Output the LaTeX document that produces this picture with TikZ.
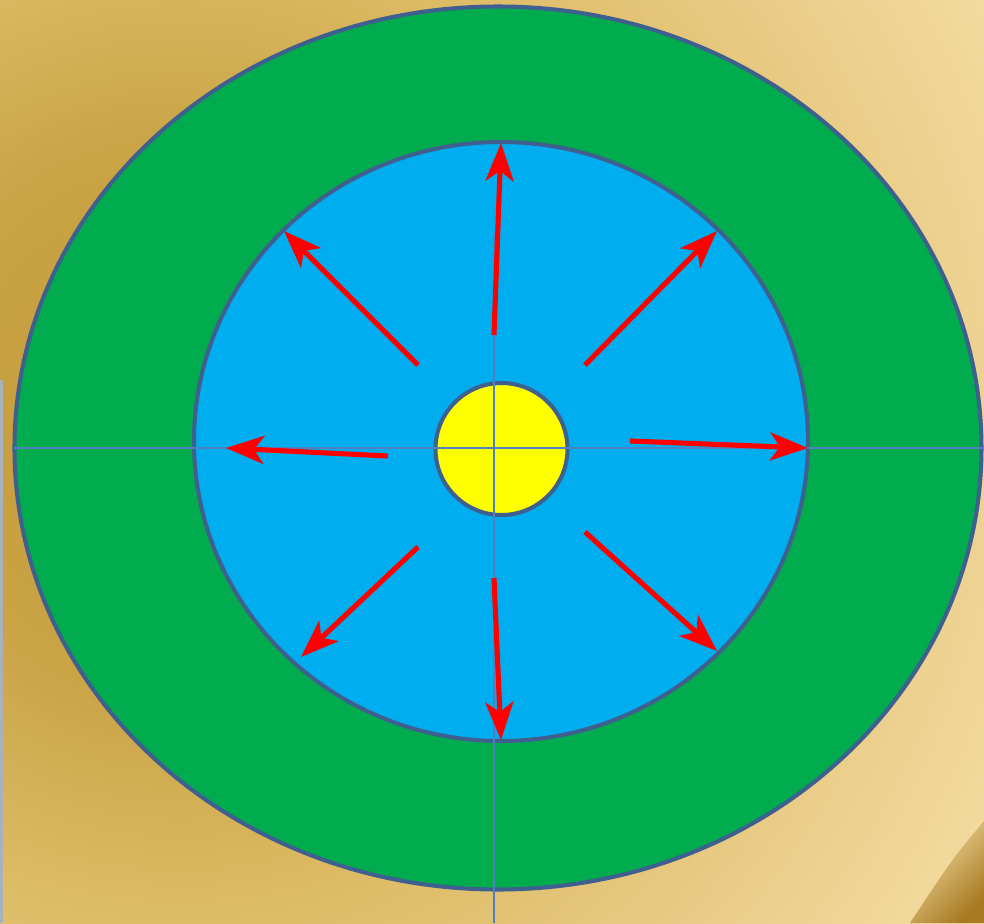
\documentclass[tikz,border=0pt]{standalone}
\usepackage{xcolor}
\usepackage{tikz}
\usetikzlibrary{arrows.meta}
\definecolor{altinKoyu}{HTML}{C49A3A}
\definecolor{altinOrta}{HTML}{C9A344}
\definecolor{altinAcik}{HTML}{DDBC66}
\definecolor{altinParlak}{HTML}{EDD292}
\definecolor{altinSon}{HTML}{FAE7B2}
\definecolor{kivrikAcik}{HTML}{F5DEA4}
\definecolor{kivrikKoyu}{HTML}{A87A22}
\definecolor{kenarGri}{HTML}{A7B2BE}
\definecolor{yesilHalka}{HTML}{00AC4E}
\definecolor{maviDaire}{HTML}{00AEEF}
\definecolor{sariMerkez}{HTML}{FFFF00}
\definecolor{kenarMavi}{HTML}{3F5F8F}
\definecolor{eksenMavi}{HTML}{5080C0}
\definecolor{kirmizi}{HTML}{FF0000}
\pgfdeclareradialshading{altinZemin}{\pgfpoint{0bp}{0bp}}{color(0bp)=(altinKoyu); color(7bp)=(altinOrta); color(13bp)=(altinAcik); color(21bp)=(altinParlak); color(28bp)=(altinSon); color(50bp)=(altinSon)}
\tikzset{
  halka/.style={draw=kenarMavi,line width=1.15pt},
  eksen/.style={eksenMavi,line width=0.6pt},
  yayilma/.style={kirmizi,line width=1.45pt,-{Stealth[length=3.8mm,width=2.8mm,inset=1mm]}}
}

\begin{document}
\begin{tikzpicture}
\useasboundingbox (-4.98,-4.75) rectangle (4.86,4.48);
% zemin
\begin{scope}
\clip (-4.98,-4.75) rectangle (4.86,4.48);
\shade[shading=altinZemin] (-3.18,0.28) circle (9.5);
\shade[top color=kivrikAcik,bottom color=kivrikKoyu,shading angle=45] (4.86,-3.73) .. controls (4.55,-4.1) .. (4.12,-4.75) -- (4.86,-4.75) -- cycle;
\fill[kenarGri] (-4.98,-4.75) rectangle (-4.95,0.68);
\end{scope}
% halkalar
\filldraw[halka,fill=yesilHalka] (0,0) ellipse (4.835 and 4.415);
\filldraw[halka,fill=maviDaire] (0.03,0.065) ellipse (3.07 and 2.995);
\filldraw[halka,fill=sariMerkez] (0.035,-0.01) circle (0.66);
\draw[eksen] (-4.84,0) -- (4.86,0);
\draw[eksen] (-0.04,2.15) -- (-0.04,-4.75);
% oklar
\draw[yayilma] (-0.04,1.13) -- (0.03,3.05);
\draw[yayilma] (0.87,0.83) -- (2.19,2.17);
\draw[yayilma] (1.32,0.07) -- (3.10,0.00);
\draw[yayilma] (0.87,-0.84) -- (2.19,-2.03);
\draw[yayilma] (-0.04,-1.30) -- (0.03,-2.92);
\draw[yayilma] (-0.80,-0.99) -- (-1.97,-2.09);
\draw[yayilma] (-1.10,-0.08) -- (-2.72,0.00);
\draw[yayilma] (-0.80,0.83) -- (-2.14,2.17);
\end{tikzpicture}
\end{document}
